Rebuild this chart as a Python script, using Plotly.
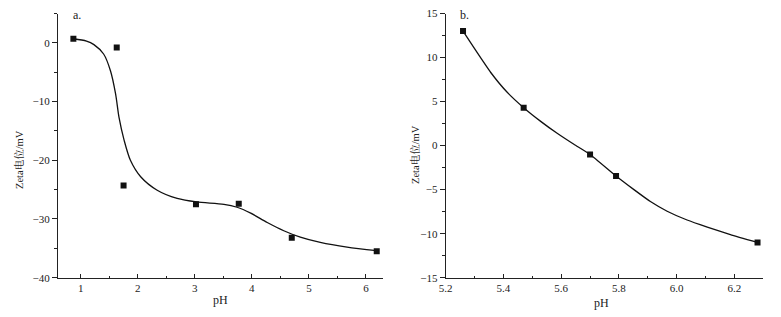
import plotly.graph_objects as go

# Panel a: measured points
a_ph = [0.87, 1.63, 1.75, 3.02, 3.77, 4.70, 6.19]
a_zeta = [0.7, -0.8, -24.3, -27.5, -27.4, -33.2, -35.5]
# Panel a: fitted curve
a_fit_ph = [0.87, 1.10, 1.23, 1.40, 1.52, 1.61, 1.67, 1.76, 1.87, 2.05, 2.34, 2.69, 3.03,
            3.51, 3.74, 3.98, 4.27, 4.56, 4.85, 5.20, 5.67, 6.19]
a_fit_zeta = [0.7, 0.3, -0.3, -1.9, -4.75, -8.7, -12.7, -16.6, -20.0, -22.8, -25.1, -26.5, -27.1,
              -27.5, -28.0, -29.0, -30.6, -32.0, -33.1, -34.0, -34.8, -35.4]

# Panel b: measured points
b_ph = [5.26, 5.47, 5.70, 5.79, 6.28]
b_zeta = [13.0, 4.3, -1.0, -3.45, -11.0]
# Panel b: smooth curve
b_fit_ph = [5.26, 5.30, 5.356, 5.413, 5.47, 5.529, 5.586, 5.644, 5.70, 5.79, 5.852, 5.909,
            5.967, 6.036, 6.106, 6.186, 6.28]
b_fit_zeta = [13.0, 11.0, 8.3, 6.05, 4.3, 2.75, 1.4, 0.15, -1.0, -3.45, -5.0, -6.35,
              -7.45, -8.45, -9.25, -10.1, -11.0]

FONT = "Liberation Serif, Noto Serif CJK SC, Noto Sans CJK SC, serif"
BLACK = "#111111"
AXC = "#222222"

fig = go.Figure()
fig.add_trace(go.Scatter(x=a_fit_ph, y=a_fit_zeta, mode="lines",
                         line=dict(color=BLACK, width=1.3, shape="spline", smoothing=0.8),
                         xaxis="x", yaxis="y", showlegend=False, hoverinfo="skip"))
fig.add_trace(go.Scatter(x=a_ph, y=a_zeta, mode="markers", marker=dict(symbol="square", size=6, color=BLACK),
                         xaxis="x", yaxis="y", showlegend=False))
fig.add_trace(go.Scatter(x=b_fit_ph, y=b_fit_zeta, mode="lines",
                         line=dict(color=BLACK, width=1.3, shape="spline", smoothing=0.5),
                         xaxis="x2", yaxis="y2", showlegend=False, hoverinfo="skip"))
fig.add_trace(go.Scatter(x=b_ph, y=b_zeta, mode="markers", marker=dict(symbol="square", size=6, color=BLACK),
                         xaxis="x2", yaxis="y2", showlegend=False))

ydom = [1 - 277.7 / 317, 1 - 13.5 / 317]
common = dict(showline=True, linecolor=AXC, linewidth=1, showgrid=False, zeroline=False, automargin=False,
              tickfont=dict(family=FONT, size=11, color=AXC), tickcolor=AXC)

fig.update_layout(
    width=781, height=317,
    margin=dict(l=0, r=0, t=0, b=0, pad=0),
    paper_bgcolor="white", plot_bgcolor="white",
    font=dict(family=FONT, size=11, color=AXC),
    xaxis=dict(domain=[58 / 781, 383 / 781], range=[0.6, 6.3], anchor="y", dtick=1, tick0=0,
               ticks="inside", ticklen=4, tickwidth=1,
               minor=dict(ticks="inside", ticklen=2, dtick=0.5, tick0=0, tickcolor=AXC), **common),
    yaxis=dict(domain=ydom, range=[-40, 5], anchor="x", dtick=10, tick0=0,
               ticks="outside", ticklen=5, tickwidth=1,
               minor=dict(ticks="outside", ticklen=3, dtick=5, tick0=0, tickcolor=AXC), **common),
    xaxis2=dict(domain=[445.7 / 781, 763.3 / 781], range=[5.2, 6.3], anchor="y2", dtick=0.2, tick0=0,
                tickformat=".1f", ticks="inside", ticklen=4, tickwidth=1,
                minor=dict(ticks="inside", ticklen=2, dtick=0.1, tick0=0, tickcolor=AXC), **common),
    yaxis2=dict(domain=ydom, range=[-15, 15], anchor="x2", dtick=5, tick0=0,
                ticks="outside", ticklen=5, tickwidth=1,
                minor=dict(ticks="outside", ticklen=3, dtick=2.5, tick0=0, tickcolor=AXC), **common),
)

ann_font = dict(family=FONT, size=12, color=AXC)
yt_font = dict(family=FONT, size=10.5, color=AXC)
fig.add_annotation(text="pH", xref="paper", yref="paper", x=220 / 781, y=1 - 300 / 317,
                   showarrow=False, font=ann_font, xanchor="center", yanchor="middle")
fig.add_annotation(text="pH", xref="paper", yref="paper", x=601.7 / 781, y=1 - 303 / 317,
                   showarrow=False, font=ann_font, xanchor="center", yanchor="middle")
fig.add_annotation(text="Zeta电位/mV", xref="paper", yref="paper", x=19 / 781, y=1 - 160 / 317,
                   showarrow=False, font=yt_font, textangle=-90, xanchor="center", yanchor="middle")
fig.add_annotation(text="Zeta电位/mV", xref="paper", yref="paper", x=415 / 781, y=1 - 155 / 317,
                   showarrow=False, font=yt_font, textangle=-90, xanchor="center", yanchor="middle")
fig.add_annotation(text="a.", xref="paper", yref="paper", x=71 / 781, y=1 - 15 / 317,
                   showarrow=False, font=ann_font, xanchor="left", yanchor="middle")
fig.add_annotation(text="b.", xref="paper", yref="paper", x=458 / 781, y=1 - 15 / 317,
                   showarrow=False, font=ann_font, xanchor="left", yanchor="middle")

fig.write_html("out.html", config={"displayModeBar": False},
               post_script="document.body.style.margin='0';document.body.style.overflow='hidden';")
